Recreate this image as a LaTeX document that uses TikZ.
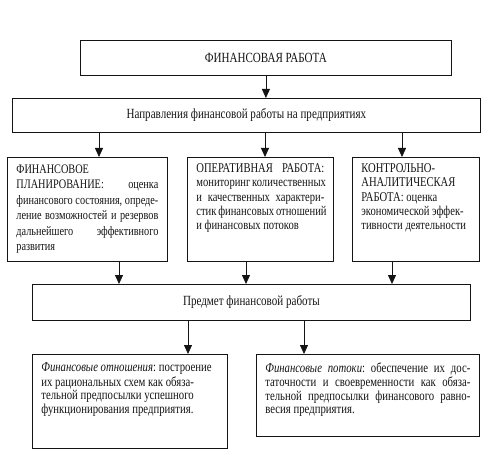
\documentclass[tikz,border=0pt]{standalone}
\usepackage{fontspec}
\setmainfont{Liberation Serif}[FakeStretch=0.79]
\usetikzlibrary{arrows.meta, positioning}
\definecolor{ink}{HTML}{141414}
\tikzset{
  blk/.style={draw=ink, line width=0.8pt, inner sep=0pt, anchor=north west, text=ink},
  tbox/.style={blk, inner xsep=9pt, inner ysep=5pt, font=\fontsize{13.4}{14.3}\selectfont},
  lbox/.style={blk, inner xsep=9pt, inner ysep=8pt, font=\fontsize{13.6}{13.3}\selectfont},
  arr/.style={draw=ink, line width=0.8pt, -{Triangle[length=9pt,width=8pt]}}
}
\newcommand{\txtbox}[3]{\parbox[t][#2][t]{#1}{\strut#3}}

\begin{document}
\begin{tikzpicture}[x=1pt, y=-1pt, font=\fontsize{14}{14.3}\selectfont]
  \useasboundingbox (0,0) rectangle (498,457);
  % upper levels
  \node[blk, minimum width=371pt, minimum height=35pt] (fin) at (80,40) {ФИНАНСОВАЯ РАБОТА};
  \node[blk, minimum width=468pt, minimum height=34pt] (napr) at (12,98) {Направления финансовой работы на предприятиях};
  % three directions
  \node[tbox, font=\fontsize{13}{15.5}\selectfont] (plan) at (7,157) {\txtbox{142pt}{94pt}{ФИНАНСОВОЕ\newline
     ПЛАНИРОВАНИЕ:~оценка\linebreak финансового~состояния,~\mbox{опреде-}\linebreak
     ление~возможностей~и~резервов\linebreak дальнейшего~эффективного\linebreak развития}};
  \node[tbox] (oper) at (187,157) {\txtbox{128pt}{94pt}{ОПЕРАТИВНАЯ~РАБОТА:\linebreak
     мониторинг~количественных\linebreak и~качественных~\mbox{характери-}\linebreak
     стик~финансовых~отношений\linebreak и~финансовых~потоков}};
  \node[tbox] (kontr) at (352,157) {\txtbox{109pt}{94pt}{КОНТРОЛЬНО-\\ АНАЛИТИЧЕСКАЯ\\
     РАБОТА:~оценка\\ экономической~эффек-\\ тивности~деятельности}};
  \node[blk, minimum width=438pt, minimum height=36pt] (predmet) at (32,284) {Предмет финансовой работы};
  % objects
  \node[lbox] (otn) at (32,354) {\txtbox{177pt}{78pt}{%
     \textit{Финансовые~отношения}:~построение\\ их~рациональных~схем~как~обяза-\\
     тельной~предпосылки~успешного\\ функционирования~предприятия.}};
  \node[lbox] (potok) at (256,354) {\txtbox{205pt}{66pt}{%
     \textit{Финансовые~потоки}:~обеспечение~их~\mbox{дос-}\linebreak таточности~и~своевременности~как~\mbox{обяза-}\linebreak
     тельной~предпосылки~финансового~\mbox{равно-}\linebreak весия~предприятия.}};
  % arrows
  \draw[arr] (fin.south) -- (fin.south |- napr.north);
  \draw[arr] ([xshift=92pt]plan.north west |- napr.south) -- ([xshift=92pt]plan.north west);
  \draw[arr] ([xshift=78pt]oper.north west |- napr.south) -- ([xshift=78pt]oper.north west);
  \draw[arr] ([xshift=50pt]kontr.north west |- napr.south) -- ([xshift=50pt]kontr.north west);
  \draw[arr] ([xshift=112pt]plan.south west) -- ([xshift=112pt]plan.south west |- predmet.north);
  \draw[arr] ([xshift=59pt]oper.south west) -- ([xshift=59pt]oper.south west |- predmet.north);
  \draw[arr] ([xshift=40pt]kontr.south west) -- ([xshift=40pt]kontr.south west |- predmet.north);
  \draw[arr] ([xshift=156pt]otn.north west |- predmet.south) -- ([xshift=156pt]otn.north west);
  \draw[arr] ([xshift=48pt]potok.north west |- predmet.south) -- ([xshift=48pt]potok.north west);
\end{tikzpicture}
\end{document}
